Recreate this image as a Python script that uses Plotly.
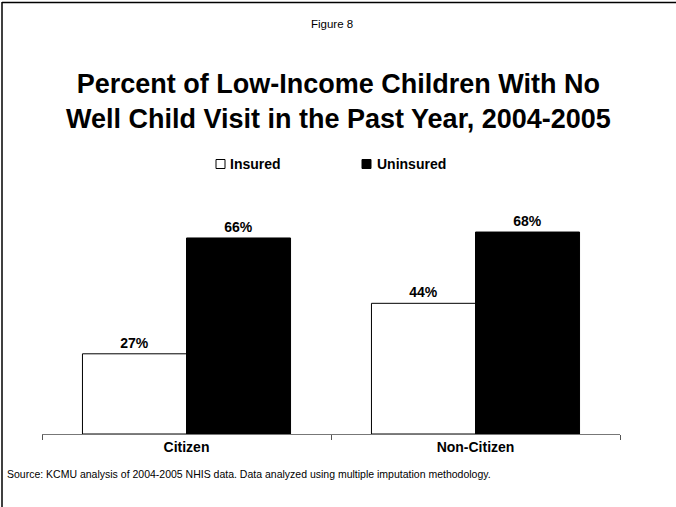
import plotly.graph_objects as go

categories = ["Citizen", "Non-Citizen"]
insured = [27, 44]
uninsured = [66, 68]
series_names = ["Insured", "Uninsured"]

W, H = 676, 507
L, R, T, B = 42, 56, 137, 73
PW, PH = W - L - R, H - T - B


def px(x):
    return (x - L) / PW


def py(y):
    return (H - B - y) / PH


FONT = "Liberation Sans, Arial, sans-serif"

fig = go.Figure()
fig.add_trace(go.Bar(
    x=categories, y=insured, name=series_names[0],
    marker=dict(color="white", line=dict(color="black", width=1)),
    text=[f"<b>{v}%</b>" for v in insured], textposition="outside",
    textfont=dict(family=FONT, size=14, color="black"),
    cliponaxis=False,
))
fig.add_trace(go.Bar(
    x=categories, y=uninsured, name=series_names[1],
    marker=dict(color="black", line=dict(color="black", width=1)),
    text=[f"<b>{v}%</b>" for v in uninsured], textposition="outside",
    textfont=dict(family=FONT, size=14, color="black"),
    cliponaxis=False,
))

annotations = [
    dict(x=px(332), y=py(24), xref="paper", yref="paper", text="Figure 8",
         showarrow=False, font=dict(family=FONT, size=11.5, color="black"),
         xanchor="center", yanchor="middle"),
    dict(x=px(338), y=py(101), xref="paper", yref="paper",
         text="<b>Percent of Low-Income Children With No<br>Well Child Visit in the Past Year, 2004-2005</b>",
         showarrow=False, font=dict(family=FONT, size=27, color="black"),
         xanchor="center", yanchor="middle"),
    dict(x=px(228), y=py(164), xref="paper", yref="paper", text="<b>Insured</b>",
         showarrow=False, font=dict(family=FONT, size=14, color="black"),
         xanchor="left", yanchor="middle"),
    dict(x=px(375), y=py(164), xref="paper", yref="paper", text="<b>Uninsured</b>",
         showarrow=False, font=dict(family=FONT, size=14, color="black"),
         xanchor="left", yanchor="middle"),
    dict(x=px(5), y=py(474), xref="paper", yref="paper",
         text="Source: KCMU analysis of 2004-2005 NHIS data. Data analyzed using multiple imputation methodology.",
         showarrow=False, font=dict(family=FONT, size=10.5, color="black"),
         xanchor="left", yanchor="middle"),
]

shapes = [
    # legend swatches
    dict(type="rect", xref="paper", yref="paper",
         x0=px(216), x1=px(225), y0=py(168.5), y1=py(159.5),
         fillcolor="white", line=dict(color="black", width=1)),
    dict(type="rect", xref="paper", yref="paper",
         x0=px(362), x1=px(371), y0=py(168.5), y1=py(159.5),
         fillcolor="black", line=dict(color="black", width=1)),
    # slide frame (top and left edges)
    dict(type="line", xref="paper", yref="paper",
         x0=px(2), x1=px(676), y0=py(2.5), y1=py(2.5),
         line=dict(color="black", width=1.5)),
    dict(type="line", xref="paper", yref="paper",
         x0=px(2), x1=px(2), y0=py(2), y1=py(507),
         line=dict(color="black", width=1.5)),
]

fig.update_layout(
    width=W, height=H,
    margin=dict(l=L, r=R, t=T, b=B),
    paper_bgcolor="white", plot_bgcolor="white",
    barmode="group", bargap=0.28, bargroupgap=0,
    showlegend=False,
    annotations=annotations, shapes=shapes,
    xaxis=dict(
        showline=True, linecolor="#777777", linewidth=1,
        ticks="outside", tickson="boundaries", ticklen=5, tickcolor="#555555",
        tickfont=dict(family=FONT, size=14, color="black"),
        tickvals=categories, ticktext=[f"<b>{c}</b>" for c in categories],
        showgrid=False, zeroline=False,
    ),
    yaxis=dict(range=[0, 100], visible=False, showgrid=False, zeroline=False),
)

fig.write_html("out.html")
